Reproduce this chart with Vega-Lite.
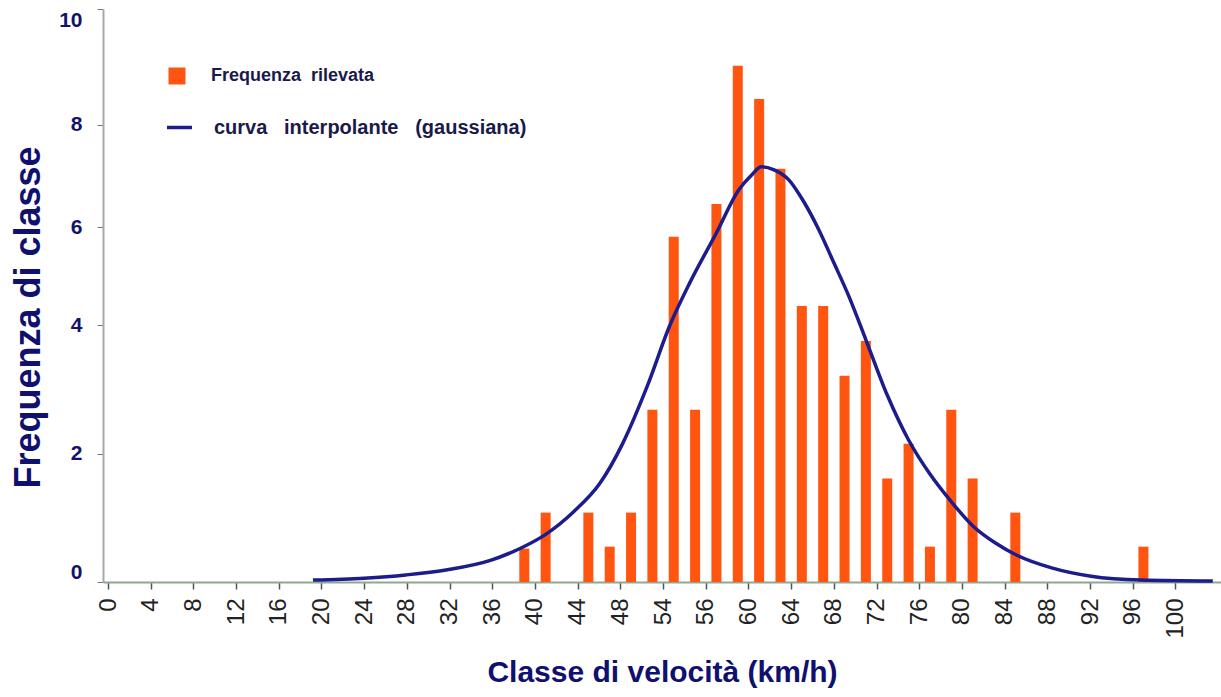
{
  "$schema": "https://vega.github.io/schema/vega-lite/v6.json",
  "width": 1118,
  "height": 573,
  "autosize": "none",
  "padding": {"left": 103, "top": 9, "right": 0, "bottom": 115},
  "background": "white",
  "config": {"view": {"stroke": null}, "font": "Liberation Sans"},
  "datasets": {
    "barre": [
      {"classe": 39, "frequenza": 0.52},
      {"classe": 41, "frequenza": 1.08},
      {"classe": 45, "frequenza": 1.08},
      {"classe": 47, "frequenza": 0.55},
      {"classe": 49, "frequenza": 1.08},
      {"classe": 51, "frequenza": 2.68},
      {"classe": 53, "frequenza": 5.8},
      {"classe": 55, "frequenza": 2.68},
      {"classe": 57, "frequenza": 6.45},
      {"classe": 59, "frequenza": 9.02},
      {"classe": 61, "frequenza": 8.45},
      {"classe": 63, "frequenza": 7.14},
      {"classe": 65, "frequenza": 4.39},
      {"classe": 67, "frequenza": 4.39},
      {"classe": 69, "frequenza": 3.21},
      {"classe": 71, "frequenza": 3.75},
      {"classe": 73, "frequenza": 1.61},
      {"classe": 75, "frequenza": 2.15},
      {"classe": 77, "frequenza": 0.55},
      {"classe": 79, "frequenza": 2.68},
      {"classe": 81, "frequenza": 1.61},
      {"classe": 85, "frequenza": 1.08},
      {"classe": 97, "frequenza": 0.55}
    ],
    "curva": [
      {"velocita": 19.2, "frequenza": 0.03},
      {"velocita": 24.0, "frequenza": 0.06},
      {"velocita": 27.9, "frequenza": 0.11},
      {"velocita": 31.8, "frequenza": 0.19},
      {"velocita": 35.9, "frequenza": 0.34},
      {"velocita": 38.7, "frequenza": 0.53},
      {"velocita": 40.9, "frequenza": 0.73},
      {"velocita": 43.6, "frequenza": 1.09},
      {"velocita": 46.1, "frequenza": 1.54},
      {"velocita": 48.2, "frequenza": 2.15},
      {"velocita": 50.5, "frequenza": 3.04},
      {"velocita": 52.6, "frequenza": 3.98},
      {"velocita": 54.5, "frequenza": 4.86},
      {"velocita": 57.0, "frequenza": 5.88},
      {"velocita": 59.1, "frequenza": 6.73},
      {"velocita": 60.3, "frequenza": 7.02},
      {"velocita": 61.2, "frequenza": 7.18},
      {"velocita": 62.4, "frequenza": 7.12},
      {"velocita": 63.8, "frequenza": 6.92},
      {"velocita": 65.2, "frequenza": 6.49},
      {"velocita": 66.6, "frequenza": 5.94},
      {"velocita": 68.0, "frequenza": 5.27},
      {"velocita": 69.4, "frequenza": 4.59},
      {"velocita": 71.0, "frequenza": 3.77},
      {"velocita": 73.0, "frequenza": 2.91},
      {"velocita": 75.0, "frequenza": 2.21},
      {"velocita": 77.0, "frequenza": 1.68},
      {"velocita": 79.0, "frequenza": 1.25},
      {"velocita": 81.1, "frequenza": 0.86},
      {"velocita": 83.1, "frequenza": 0.61},
      {"velocita": 85.1, "frequenza": 0.42},
      {"velocita": 88.4, "frequenza": 0.22},
      {"velocita": 92.1, "frequenza": 0.09},
      {"velocita": 96.8, "frequenza": 0.03},
      {"velocita": 103.5, "frequenza": 0.015}
    ]
  },
  "layer": [
    {
      "data": {"name": "barre"},
      "mark": {"type": "bar", "width": 10},
      "encoding": {
        "x": {
          "field": "classe",
          "type": "quantitative",
          "scale": {"domain": [0, 103.8], "nice": false, "zero": false},
          "axis": {
            "values": [0,2,4,6,8,10,12,14,16,18,20,22,24,26,28,30,32,34,36,38,40,42,44,46,48,50,52,54,56,58,60,62,64,66,68,70,72,74,76,78,80,82,84,86,88,90,92,94,96,98,100,102],
            "labelExpr": "datum.value % 4 == 0 ? (datum.value == 52 ? '54' : datum.label) : ''",
            "labelAngle": -90,
            "labelFontSize": 24,
            "labelColor": "#222222",
            "labelPadding": 9,
            "labelOverlap": false,
            "labelFlush": false,
            "labelBound": false,
            "tickSize": 7,
            "tickWidth": 1.5,
            "tickColor": "#4a5a55",
            "domainColor": "#93a593",
            "domainWidth": 2,
            "grid": false,
            "title": "Classe di velocità (km/h)",
            "titleFontSize": 30,
            "titleFontWeight": "bold",
            "titleColor": "#10106e",
            "titlePadding": 19
          }
        },
        "y": {
          "field": "frequenza",
          "type": "quantitative",
          "scale": {
            "domain": [0, 4, 6, 8, 10],
            "range": [{"expr": "height"}, {"expr": "height*0.5515"}, {"expr": "height*0.3805"}, {"expr": "height*0.2024"}, 0],
            "nice": false,
            "zero": false
          },
          "axis": {
            "values": [0, 2, 4, 6, 8, 10],
            "format": "d",
            "labelFontSize": 21,
            "labelFontWeight": "bold",
            "labelColor": "#12126e",
            "labelPadding": 15,
            "labelFlush": true,
            "tickSize": 6,
            "tickColor": "#777777",
            "domainColor": "#a8a8a8",
            "domainWidth": 2,
            "grid": false,
            "title": "Frequenza di classe",
            "titleFontSize": 36,
            "titleFontWeight": "bold",
            "titleColor": "#10106e",
            "titlePadding": 11,
            "titleY": 308
          }
        },
        "fill": {
          "datum": "Frequenza\u00a0\u00a0rilevata",
          "scale": {"domain": ["Frequenza\u00a0\u00a0rilevata"], "range": ["#ff5511"]},
          "legend": {
            "orient": "none",
            "legendX": 65,
            "legendY": 58,
            "title": null,
            "padding": 0,
            "symbolType": "square",
            "symbolSize": 289,
            "symbolStrokeWidth": 0,
            "labelFontSize": 18,
            "labelFontWeight": "bold",
            "labelColor": "#1a1a4a",
            "labelOffset": 25,
            "labelLimit": 0
          }
        }
      }
    },
    {
      "data": {"name": "curva"},
      "mark": {"type": "line", "interpolate": "monotone", "strokeWidth": 3.5},
      "encoding": {
        "x": {"field": "velocita", "type": "quantitative"},
        "y": {"field": "frequenza", "type": "quantitative"},
        "stroke": {
          "datum": "curva\u00a0\u00a0\u00a0interpolante\u00a0\u00a0\u00a0(gaussiana)",
          "scale": {"domain": ["curva\u00a0\u00a0\u00a0interpolante\u00a0\u00a0\u00a0(gaussiana)"], "range": ["#1c1c8c"]},
          "legend": {
            "orient": "none",
            "legendX": 62,
            "legendY": 104,
            "title": null,
            "padding": 0,
            "symbolType": "stroke",
            "symbolSize": 625,
            "symbolStrokeWidth": 3.5,
            "labelFontSize": 20,
            "labelFontWeight": "bold",
            "labelColor": "#1a1a4a",
            "labelOffset": 20,
            "labelLimit": 0
          }
        }
      }
    },
    {
      "mark": {"type": "rule", "color": "#cdd3cd", "strokeWidth": 1.5},
      "encoding": {"y": {"datum": 10}}
    }
  ]
}
